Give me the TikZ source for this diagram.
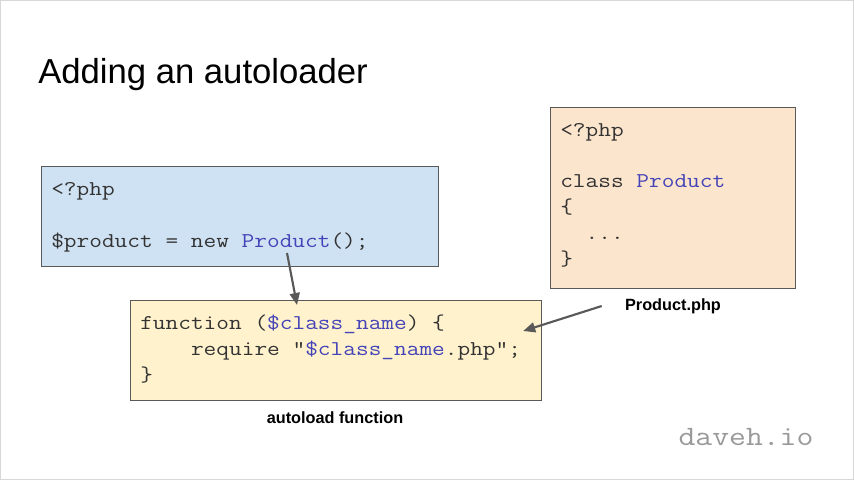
\documentclass[tikz,border=0pt]{standalone}
\usepackage{fontspec}
\setmainfont{Liberation Sans}
\setsansfont{Liberation Sans}
\setmonofont[FakeStretch=1.17]{Latin Modern Mono}
\usetikzlibrary{arrows.meta, positioning, calc}
\definecolor{callblue}{RGB}{207, 226, 243}
\definecolor{fileorange}{RGB}{252, 229, 205}
\definecolor{loadyellow}{RGB}{255, 242, 204}
\definecolor{boxgray}{RGB}{89, 89, 89}
\definecolor{codetext}{RGB}{51, 51, 51}
\definecolor{codename}{RGB}{68, 68, 184}
\definecolor{slideedge}{RGB}{215, 215, 215}

\newcommand{\nm}[1]{\textcolor{codename}{#1}}

\begin{document}
\begin{tikzpicture}[x=0.75pt, y=-0.75pt,
    codebox/.style={draw=boxgray, line width=0.9pt, anchor=north west, inner sep=0pt},
    codetxt/.style={anchor=base west, inner sep=0pt, align=left, text=codetext,
        font=\ttfamily\fontsize{15.8}{19.3}\selectfont},
    caption/.style={font=\bfseries\fontsize{12.2}{14}\selectfont},
    pointer/.style={draw=boxgray, line width=1.6pt, -{Triangle[length=9pt, width=7.5pt]}}]
    \useasboundingbox (0,0) rectangle (854,480);
    \draw[slideedge, line width=1pt] (0.5,0.5) rectangle (853.5,479.5);

    \node[anchor=base west, inner sep=0pt, font=\fontsize{26}{30}\selectfont] (title) at (38,83) {Adding an autoloader};

    % the three code boxes (text placed by its last baseline)
    \node[codebox, fill=callblue, minimum width=297.75pt, minimum height=75pt] (caller) at (41,166) {};
    \node[codetxt] (callcode) at (51,247) {<?php\\ \mbox{}\\ \$product = new \nm{Product}();};

    \node[codebox, fill=fileorange, minimum width=183.75pt, minimum height=135.75pt] (classfile) at (550,107) {};
    \node[codetxt] (classcode) at (560,265) {<?php\\ \mbox{}\\ class \nm{Product}\\ \{\\ \phantom{xx}...\\ \}};

    \node[codebox, fill=loadyellow, minimum width=308.25pt, minimum height=75pt] (autoload) at (130,300) {};
    \node[codetxt] (loadcode) at (140,381) {function (\nm{\$class\_name}) \{\\ \phantom{xxxx}require "\nm{\$class\_name}.php";\\ \}};

    % captions
    \node[caption] (filelabel) at (673,306) {Product.php};
    \node[caption] (loadlabel) at (335,418) {autoload function};
    \node[font=\ttfamily\fontsize{21}{24}\selectfont, text=black!40] (site) at (746,437) {daveh.io};

    % arrows
    \coordinate (callpt) at (287,253);
    \draw[pointer] (callpt) -- ([shift={(167,5)}]autoload.north west);
    \draw[pointer] ([xshift=-14pt]filelabel.west) -- ([shift={(-19,31)}]autoload.north east);
\end{tikzpicture}
\end{document}
